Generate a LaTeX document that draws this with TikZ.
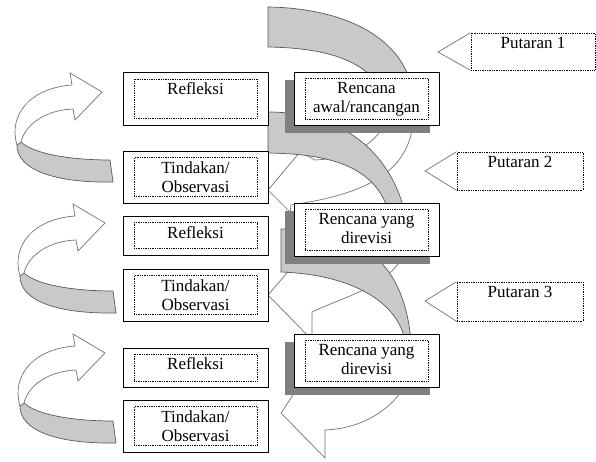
\documentclass[tikz,border=0pt]{standalone}
\usepackage{fontspec}
\setmainfont{Liberation Serif}
\usepackage{tikz}
\usetikzlibrary{shadows}

\newcommand{\isi}[2]{\parbox[c][#1][t]{123pt}{\centering\vspace*{4pt}#2}}

\begin{document}
\begin{tikzpicture}[x=1pt,y=-1pt,font=\fontsize{17}{19.5}\selectfont,
  kotak/.style={draw,fill=white,line width=1pt,minimum width=145pt,inner sep=0pt},
  rencana/.style={kotak,minimum height=53pt,drop shadow={shadow xshift=-9pt,shadow yshift=-8pt,fill=black!50,opacity=1}},
  dalam/.style={draw,densely dotted,line width=0.75pt,inner sep=0pt},
  punggung/.style={fill=black!21,draw=black!65,line width=0.7pt},
  muka/.style={fill=white,draw=black!55,line width=0.7pt},
  putaran/.style={draw,densely dotted,line width=0.75pt,inner sep=0pt}]
  \useasboundingbox (0,0) rectangle (596,461);

  \draw[punggung] (268,7) .. controls (340,8) and (408,35) .. (414,100) -- (388,110)
    .. controls (380,62) and (330,48) .. (268,47) -- cycle;
  \draw[muka] (414,100) .. controls (416,155) and (395,190) .. (291,205) -- (290,212) -- (268,190)
    -- (300,152) -- (315,160) .. controls (355,158) and (385,140) .. (388,110) -- cycle;
  \draw[punggung] (268,112) .. controls (340,112) and (400,150) .. (410,240) -- (392,245)
    .. controls (395,168) and (335,154) .. (268,153) -- cycle;
  \draw[muka] (410,240) .. controls (398,285) and (350,294) .. (312,312) -- (312,340) -- (268,295)
    -- (298,260) -- (314,268) .. controls (350,262) and (385,255) .. (392,245) -- cycle;
  \draw[punggung] (281,229) .. controls (360,229) and (412,260) .. (412,365) -- (400,370) -- (405,340)
    .. controls (395,295) and (340,274) .. (281,272) -- cycle;
  \draw[muka] (412,365) .. controls (408,395) and (375,428) .. (325,430) -- (325,458) -- (281,413)
    -- (303,380) -- (318,388) .. controls (350,385) and (390,378) .. (400,370) -- cycle;

  \foreach \dx/\dy in {0/0,3/131,3/261}{
    \begin{scope}[shift={(\dx,\dy)}]
      \draw[punggung] (21,142) .. controls (35,155) and (75,160) .. (110,160) -- (113,182)
        .. controls (55,183) and (17,170) .. (17,145) -- cycle;
      \draw[muka] (17,145) .. controls (8,115) and (30,88) .. (72,85) -- (70,73) -- (102,92)
        -- (75,120) -- (73,109) .. controls (45,110) and (25,125) .. (21,142) -- cycle;
    \end{scope}}

  \node[kotak,minimum height=53pt] (ref1) at (195.5,98.5) {};
  \node[dalam] (ref1i) at (ref1) {\isi{39pt}{Refleksi}};
  \node[kotak,minimum height=52pt] (tin1) at (195.5,177) {};
  \node[dalam] (tin1i) at (tin1) {\isi{39pt}{Tindakan/\\Observasi}};
  \node[kotak,minimum height=39pt] (ref2) at (195.5,235.5) {};
  \node[dalam] (ref2i) at (ref2) {\isi{26pt}{Refleksi}};
  \node[kotak,minimum height=52pt] (tin2) at (195.5,295) {};
  \node[dalam] (tin2i) at (tin2) {\isi{39pt}{Tindakan/\\Observasi}};
  \node[kotak,minimum height=39pt] (ref3) at (195.5,367.5) {};
  \node[dalam] (ref3i) at (ref3) {\isi{27pt}{Refleksi}};
  \node[kotak,minimum height=52pt] (tin3) at (195.5,426) {};
  \node[dalam] (tin3i) at (tin3) {\isi{39pt}{Tindakan/\\Observasi}};

  \node[rencana] (ren1) at (366.5,98.5) {};
  \node[dalam] (ren1i) at (ren1) {\isi{41pt}{Rencana\\awal/rancangan}};
  \node[rencana] (ren2) at (366.5,229.5) {};
  \node[dalam] (ren2i) at (ren2) {\isi{41pt}{Rencana yang\\direvisi}};
  \node[rencana] (ren3) at (366.5,360.5) {};
  \node[dalam] (ren3i) at (ren3) {\isi{41pt}{Rencana yang\\direvisi}};

  \node[putaran] (put1) at (533,51.5) {\parbox[c][37pt][t]{124pt}{\centering\vspace*{4pt}Putaran 1}};
  \node[putaran] (put2) at (520,171) {\parbox[c][38pt][t]{126pt}{\centering\vspace*{4pt}Putaran 2}};
  \node[putaran] (put3) at (520,301.5) {\parbox[c][39pt][t]{126pt}{\centering\vspace*{4pt}Putaran 3}};
  \coordinate (u1) at (438,52);
  \coordinate (u2) at (425,171);
  \coordinate (u3) at (425,301);
  \foreach \p in {1,2,3}
    \draw[black!55,line width=0.7pt] (put\p.north west) -- (u\p) -- (put\p.south west);
\end{tikzpicture}
\end{document}
